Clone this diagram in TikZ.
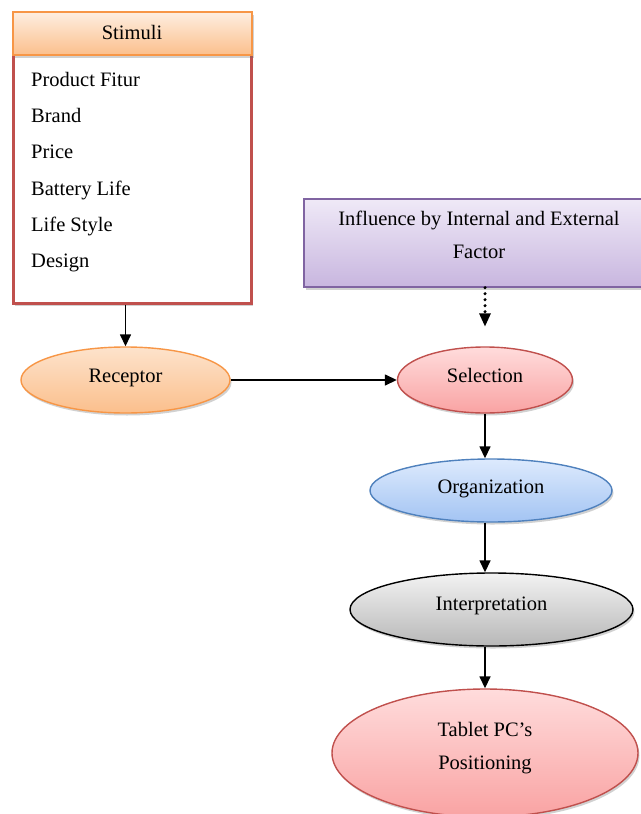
\documentclass[tikz,border=0pt]{standalone}
\usepackage{fontspec}
\setmainfont{Liberation Serif}
\usetikzlibrary{shapes.geometric,arrows.meta,shadows}
\definecolor{orgb}{HTML}{F79646}
\definecolor{redb}{HTML}{C0504D}
\definecolor{blueb}{HTML}{4F81BD}
\definecolor{purb}{HTML}{8064A2}
\definecolor{bluetop}{HTML}{DDEAFD}
\definecolor{bluebot}{HTML}{A3C4F3}
\definecolor{pinktop}{HTML}{FFDCDC}
\definecolor{pinkbot}{HTML}{F9A3A3}
\definecolor{ortop}{HTML}{FDE3CC}
\definecolor{orbot}{HTML}{FBBF8C}
\definecolor{purtop}{HTML}{EFE9F7}
\definecolor{purbot}{HTML}{C8B6DF}
\begin{document}
\begin{tikzpicture}[x=1pt,y=-1pt,
  every node/.style={font=\fontsize{20.5}{33}\selectfont},
  shad/.style={drop shadow={shadow xshift=1.5pt,shadow yshift=-2.5pt,opacity=0.3,fill=black!60}},
  oval/.style={ellipse,inner sep=0pt,line width=1.4pt,shad,text height=14pt,text depth=9pt},
  pinkfill/.style={top color=pinktop,bottom color=pinkbot},
  item/.style={anchor=base west,inner sep=0pt},
  arr/.style={line width=1.5pt,-{Triangle[length=12pt,width=11pt]}},
]
\useasboundingbox (0,0) rectangle (640,814);
% Stimuli
\node[draw=redb,line width=3pt,fill=white,minimum width=238pt,minimum height=291pt,inner sep=0pt,shad] (stimbox) at (132,157.5) {};
\node[draw=orgb,line width=1.4pt,top color=ortop!60,bottom color=orbot,minimum width=239pt,minimum height=43pt,inner sep=0pt,shad] (stimhead) at (132.5,33.5) {};
\node[inner sep=0pt,anchor=base] (stimtxt) at (132,39.5) {Stimuli};
\node[item] (i1) at (31,86) {Product Fitur};
\node[item] (i2) at (31,122) {Brand};
\node[item] (i3) at (31,158.5) {Price};
\node[item] (i4) at (31,195) {Battery Life};
\node[item] (i5) at (31,231.5) {Life Style};
\node[item] (i6) at (31,267) {Design};
% Influence
\node[draw=purb,line width=1.4pt,top color=purtop,bottom color=purbot,minimum width=350pt,minimum height=88pt,shad,align=center,text depth=17pt] (infl) at (479,243) {Influence by Internal and External\\Factor};
% ellipses
\node[oval,draw=orgb,top color=ortop,bottom color=orbot,minimum width=209pt,minimum height=66pt] (rec) at (125.5,380) {Receptor};
\node[oval,draw=redb,pinkfill,minimum width=175pt,minimum height=66pt] (sel) at (485,380) {Selection};
\node[oval,draw=blueb,top color=bluetop,bottom color=bluebot,minimum width=242pt,minimum height=63pt] (org) at (491,490.5) {Organization};
\node[oval,draw=black,top color=black!5,bottom color=black!28,minimum width=283pt,minimum height=73pt,text depth=12pt] (int) at (491.5,609.5) {Interpretation};
\node[oval,draw=redb,pinkfill,minimum width=306pt,minimum height=128pt,align=center,text height=,text depth=14pt] (tab) at (485,753) {Tablet PC’s\\Positioning};
% connectors
\draw[arr] (stimbox.south -| rec.north) -- (rec.north);
\draw[arr] (rec.east) -- (sel.west);
\draw[line width=3.4pt,dash pattern=on 0pt off 6pt,line cap=round,shorten >=20pt,-{Triangle[length=13pt,width=12pt,line width=0pt]}] (infl.south -| sel.north) -- (sel.north);
\draw[arr] (sel.south) -- (sel.south |- org.north);
\draw[arr] (sel.south |- org.south) -- (sel.south |- int.north);
\draw[arr] (sel.south |- int.south) -- (tab.north);
\end{tikzpicture}
\end{document}
